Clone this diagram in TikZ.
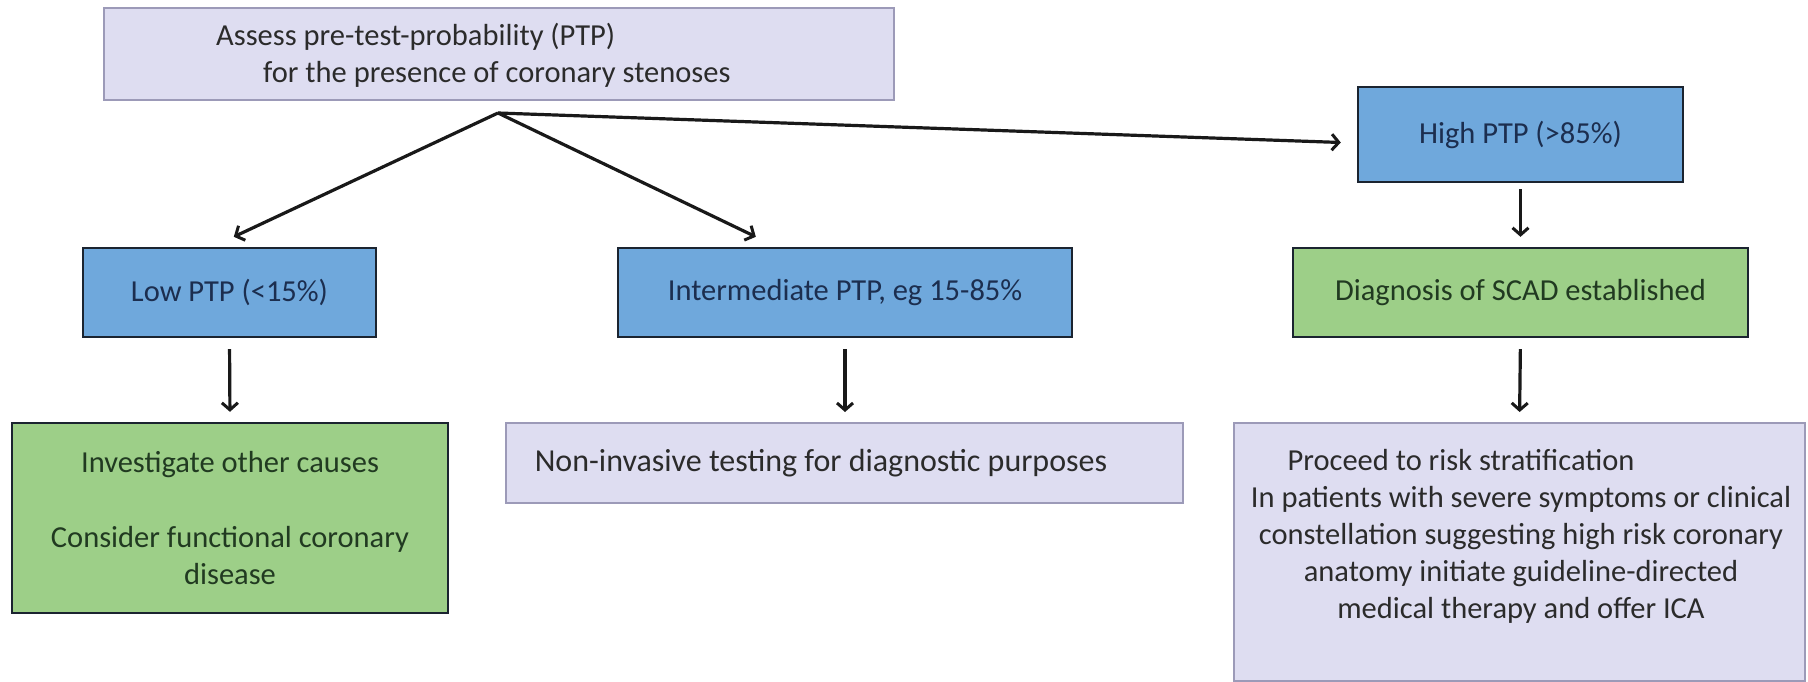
\documentclass[tikz,border=0pt]{standalone}
\usepackage{fontspec}
\setmainfont{Carlito}
\usetikzlibrary{arrows.meta}
\definecolor{bluefill}{HTML}{6FA8DC}
\definecolor{bluetext}{HTML}{1C2E4F}
\definecolor{greenfill}{HTML}{9DCF88}
\definecolor{greentext}{HTML}{213A21}
\definecolor{lavfill}{HTML}{DEDDF1}
\definecolor{lavdraw}{HTML}{9C9AB8}
\definecolor{lavtext}{HTML}{2B2B2B}
\definecolor{darkline}{HTML}{1B2430}
\tikzset{
  box/.style={rectangle, inner sep=0pt, font=\fontsize{30.5}{37}\selectfont, align=center},
  bluebox/.style={box, fill=bluefill, draw=darkline, line width=2.4pt, text=bluetext},
  greenbox/.style={box, fill=greenfill, draw=darkline, line width=2.4pt, text=greentext},
  lavbox/.style={box, fill=lavfill, draw=lavdraw, line width=2pt, text=lavtext},
  txt/.style={inner sep=0pt, font=\fontsize{30.5}{37}\selectfont, text=lavtext},
  arr/.style={line width=3.2pt, draw=black!90, -{Straight Barb[length=7pt,width=16pt,line width=3pt]}}
}
\begin{document}
\begin{tikzpicture}[x=1pt,y=-1pt]
\useasboundingbox[fill=white] (0,0) rectangle (1808,682);
% boxes
\node[lavbox, minimum width=790pt, minimum height=92pt] (top) at (499,54) {};
\node[txt, align=left, anchor=west] (toptxt) at (216,55)
  {Assess pre-test-probability (PTP)\\\hspace*{47pt}for the presence of coronary stenoses};
\node[bluebox, minimum width=293pt, minimum height=89pt] (low) at (229.5,292.5) {Low PTP (<15\%)};
\node[bluebox, minimum width=454pt, minimum height=89pt] (inter) at (845,292.5) {Intermediate PTP, eg 15-85\%};
\node[bluebox, minimum width=325pt, minimum height=95pt] (high) at (1520.5,134.5) {High PTP (>85\%)};
\node[greenbox, minimum width=455pt, minimum height=89pt] (diag) at (1520.5,292.5) {Diagnosis of SCAD established};
\node[greenbox, minimum width=436pt, minimum height=190pt] (inv) at (230,518)
  {Investigate other causes\\[38pt]Consider functional coronary\\disease};
\node[lavbox, minimum width=677pt, minimum height=80pt] (nonin) at (844.5,463) {};
\node[txt, font=\fontsize{32}{37}\selectfont] (nonintxt) at (821,463) {Non-invasive testing for diagnostic purposes};
\node[lavbox, minimum width=571pt, minimum height=258pt] (risk) at (1519.5,552) {};
\node[txt, align=center] (risktxt) at (1521,536)
  {Proceed to risk stratification\hspace*{120pt}\\In patients with severe symptoms or clinical\\constellation suggesting high risk coronary\\anatomy initiate guideline-directed\\medical therapy and offer ICA};
% connectors
\coordinate (o) at (498,113);
\draw[arr] (o) -- ([xshift=152pt,yshift=10pt]low.north west);
\draw[arr] (o) -- ([xshift=139pt,yshift=10pt]inter.north west);
\draw[arr] (o) -- ([xshift=-16pt,yshift=-8pt]high.west);
\draw[arr, shorten <=6pt, shorten >=10pt] (high.south) -- (diag.north);
\draw[arr, shorten <=11pt, shorten >=10pt] (low.south) -- (inv.north);
\draw[arr, shorten <=11pt, shorten >=10pt] (inter.south) -- (inter.south |- nonin.north);
\draw[arr, shorten <=11pt, shorten >=10pt] (diag.south) -- (risk.north);
\end{tikzpicture}
\end{document}
